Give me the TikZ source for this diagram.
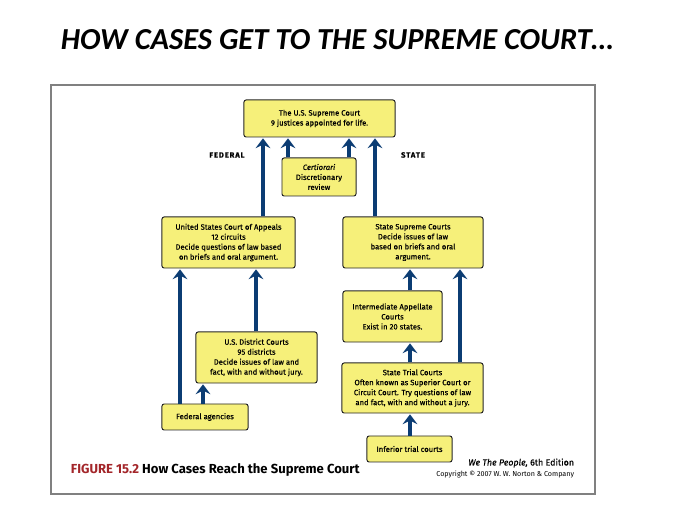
\documentclass[tikz,border=0pt]{standalone}
\usepackage{fontspec}
\setmainfont{Fira Sans}
\newfontfamily\titlefont{Carlito}
\newfontfamily\boxfont[FakeBold=0.5]{Fira Sans}
\usetikzlibrary{arrows.meta}
\definecolor{boxyellow}{HTML}{F6F07A}
\definecolor{arrowblue}{HTML}{0B3C73}
\definecolor{figred}{HTML}{A3262A}
\tikzset{
	court/.style={draw=black!85,fill=boxyellow,line width=0.7pt,rounded corners=1.5pt,align=center,inner sep=1pt,font=\boxfont\fontsize{5.45}{7.1}\selectfont},
	uparrow/.style={draw=arrowblue,line width=2.8pt,shorten >=0.6pt,-{Stealth[length=7pt,width=10.5pt,inset=2.6pt]}},
	side/.style={font=\boxfont\fontsize{5.4}{6}\selectfont\bfseries\addfontfeatures{LetterSpace=12}}
}

\begin{document}
\begin{tikzpicture}[x=0.025cm,y=-0.025cm]
			\useasboundingbox (0,0) rectangle (680,510);
			\node[anchor=west,font=\titlefont\fontsize{21.7}{26}\selectfont\bfseries\itshape] (title) at (56,40) {HOW CASES GET TO THE SUPREME COURT…};
			\draw[gray,line width=0.8pt] (51,85) rectangle (595,494);
			\node[court,minimum width=151*.25mm,minimum height=37*.25mm] (scotus) at (319.5,118.5) {The U.S. Supreme Court\\9 justices appointed for life.};
			\node[court,minimum width=74*.25mm,minimum height=38*.25mm] (cert) at (319,177) {\textit{Certiorari}\\Discretionary\\review};
			\node[court,minimum width=133*.25mm,minimum height=51*.25mm] (appeals) at (228.5,242.5) {United States Court of Appeals\\12 circuits\\Decide questions of law based\\on briefs and oral argument.};
			\node[court,minimum width=140*.25mm,minimum height=51*.25mm] (statesup) at (413,242.5) {State Supreme Courts\\Decide issues of law\\based on briefs and oral\\argument.};
			\node[court,minimum width=99*.25mm,minimum height=51*.25mm] (interm) at (392.5,316.5) {Intermediate Appellate\\Courts\\Exist in 20 states.};
			\node[court,minimum width=121*.25mm,minimum height=51*.25mm] (district) at (256.5,357.5) {U.S. District Courts\\95 districts\\Decide issues of law and\\fact, with and without jury.};
			\node[court,minimum width=141*.25mm,minimum height=50*.25mm] (trial) at (412.5,388) {State Trial Courts\\Often known as Superior Court or\\Circuit Court. Try questions of law\\and fact, with and without a jury.};
			\node[court,minimum width=86*.25mm,minimum height=26*.25mm] (agencies) at (205,417) {Federal agencies};
			\node[court,minimum width=85*.25mm,minimum height=26*.25mm] (inferior) at (409.5,449) {Inferior trial courts};
			\node[side] (federal) at (227,155) {FEDERAL};
			\node[side] (state) at (413,155) {STATE};
			\coordinate (colA) at (180,0);
			\coordinate (colB) at (203,0);
			\coordinate (colC) at (256,0);
			\coordinate (colD) at (263,0);
			\coordinate (colE) at (288,0);
			\coordinate (colF) at (349,0);
			\coordinate (colG) at (375,0);
			\coordinate (colH) at (410,0);
			\coordinate (colI) at (460,0);
			\draw[uparrow] (appeals.north -| colD) -- (scotus.south -| colD);
			\draw[uparrow] (cert.north -| colE) -- (scotus.south -| colE);
			\draw[uparrow] (cert.north -| colF) -- (scotus.south -| colF);
			\draw[uparrow] (statesup.north -| colG) -- (scotus.south -| colG);
			\draw[uparrow] (agencies.north -| colA) -- (appeals.south -| colA);
			\draw[uparrow] (agencies.north -| colB) -- (district.south -| colB);
			\draw[uparrow] (district.north -| colC) -- (appeals.south -| colC);
			\draw[uparrow] (interm.north -| colH) -- (statesup.south -| colH);
			\draw[uparrow] (trial.north -| colI) -- (statesup.south -| colI);
			\draw[uparrow] (trial.north -| colH) -- (interm.south -| colH);
			\draw[uparrow] (inferior.north -| colH) -- (trial.south -| colH);
			\node[anchor=west,font=\fontsize{9.3}{11}\selectfont\bfseries] (caption) at (66,470) {\textcolor{figred}{FIGURE 15.2} How Cases Reach the Supreme Court};
			\node[anchor=east,font=\boxfont\fontsize{6.3}{7}\selectfont] (book) at (579,463) {\textit{We The People,} 6th Edition};
			\node[anchor=east,font=\fontsize{5.1}{6}\selectfont] (copy) at (579,474) {Copyright © 2007 W. W. Norton \& Company};
		\end{tikzpicture}
\end{document}
